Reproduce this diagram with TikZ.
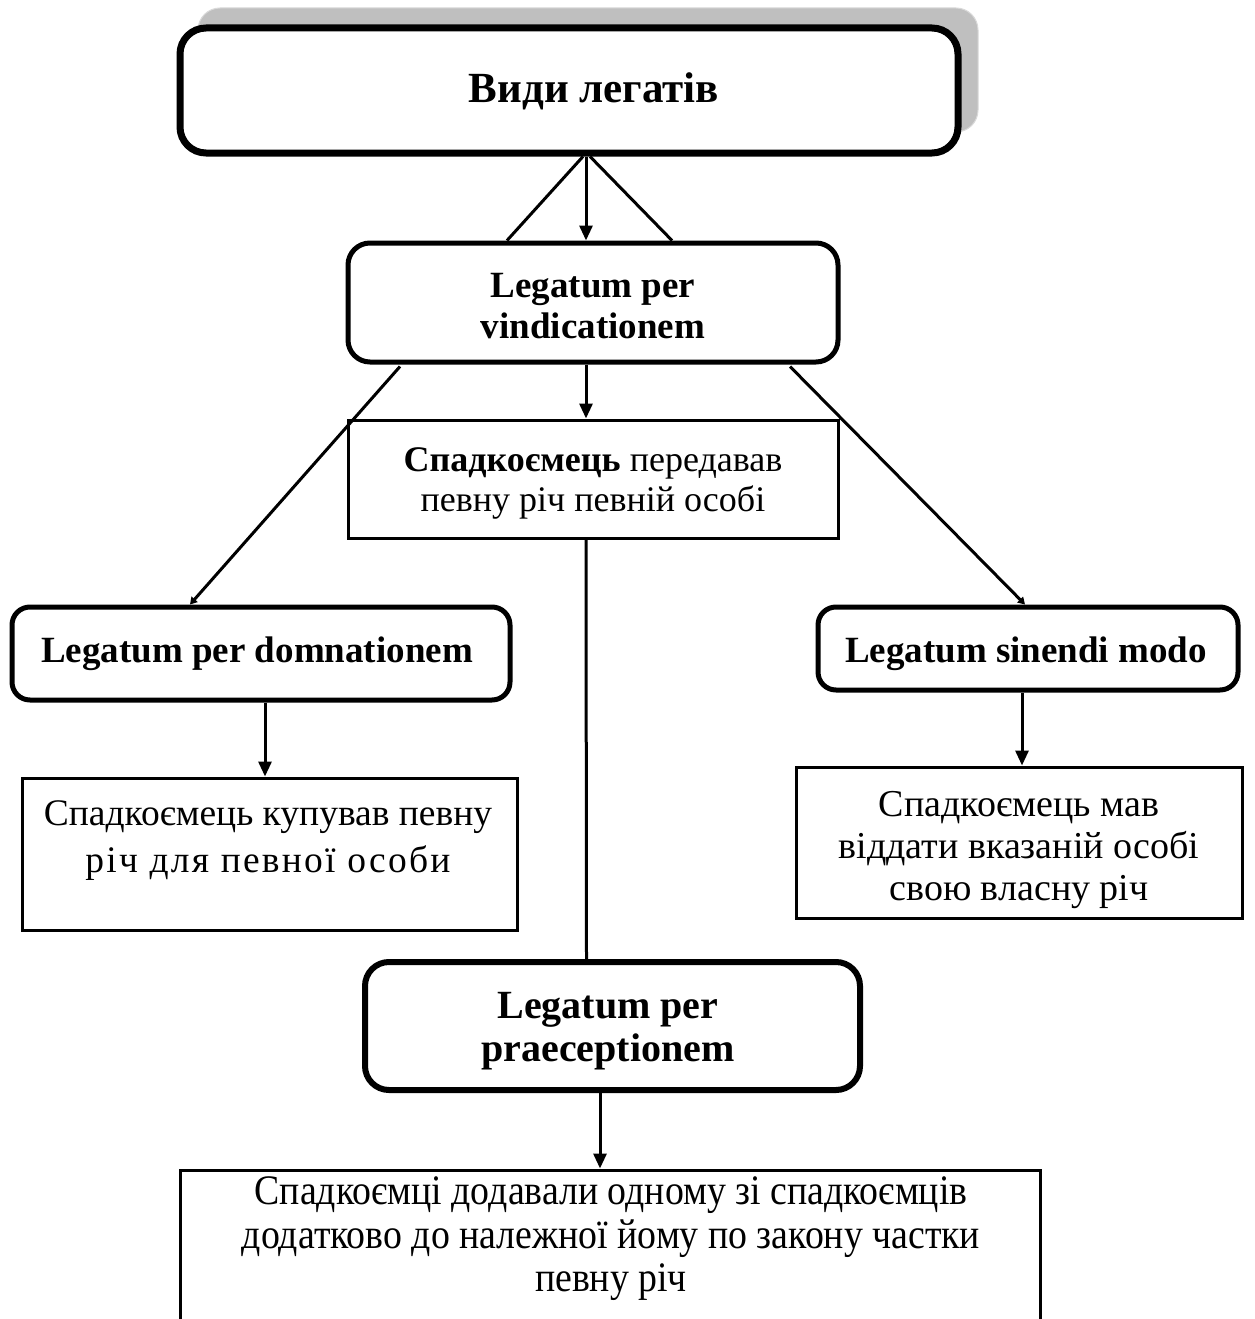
\documentclass[tikz,border=0pt]{standalone}
\usepackage{fontspec}
\setmainfont{Liberation Serif}
\usetikzlibrary{arrows.meta,calc}
\begin{document}
\begin{tikzpicture}[x=1pt,y=-1pt,
  rbox/.style={draw, rounded corners=22pt, line width=5pt, fill=white, inner sep=0pt},
  pbox/.style={draw, line width=3pt, fill=white, inner sep=0pt},
  txt/.style={align=center, inner sep=0pt, font=\fontsize{36}{40}\selectfont},
  btxt/.style={align=center, inner sep=0pt, font=\fontsize{37}{41}\selectfont\bfseries},
  conn/.style={line width=3pt},
  arr/.style={line width=3pt, -{Triangle[length=15pt,width=13pt]}},
  sarr/.style={line width=3pt, -{Triangle[length=7pt,width=8pt]}},
]
\clip (0,0) rectangle (1254,1319);
\useasboundingbox (0,0) rectangle (1254,1319);
\fill[white] (0,0) rectangle (1254,1319);

% shadow of the title box
\node[draw=gray!30, line width=1pt, fill=black!25, rounded corners=22pt, minimum width=780pt, minimum height=124pt, inner sep=0pt] (shadow) at (588,70) {};

% boxes
\node[rbox, line width=7pt, rounded corners=26pt, minimum width=778pt, minimum height=125pt] (title) at (569,90.5) {};
\node[btxt, font=\fontsize{43}{46}\selectfont\bfseries] (titlet) at (594,91) {Види легатів};

\node[rbox, minimum width=490pt, minimum height=119pt] (vind) at (593,302.5) {};
\node[btxt] (vindt) at (593,306) {Legatum per\\vindicationem};

\node[pbox, minimum width=490pt, minimum height=118pt] (spad1) at (593,479) {};
\node[txt] (spad1t) at (593,483) {\textbf{Спадкоємець} передавав\\певну річ певній особі};

\node[rbox, rounded corners=18pt, minimum width=498pt, minimum height=93pt] (domn) at (261,653.5) {};
\node[btxt] (domnt) at (257,654) {Legatum per domnationem};

\node[rbox, rounded corners=18pt, minimum width=420pt, minimum height=83pt] (sin) at (1028,648.5) {};
\node[btxt] (sint) at (1026,654) {Legatum sinendi modo};

\node[pbox, minimum width=495pt, minimum height=152pt] (spad2) at (269.5,854) {};
\node[txt, font=\fontsize{37.5}{47}\selectfont] (spad2t) at (268,841) {Спадкоємець купував певну\\{\addfontfeature{LetterSpace=6}річ для певної особи}};

\node[pbox, minimum width=446pt, minimum height=151pt] (spad3) at (1019,842.5) {};
\node[txt, font=\fontsize{38}{42}\selectfont] (spad3t) at (1019,850) {Спадкоємець мав\\віддати вказаній особі\\свою власну річ};

\node[rbox, line width=6pt, rounded corners=24pt, minimum width=495pt, minimum height=128pt] (prae) at (612.5,1026) {};
\node[btxt, font=\fontsize{40}{43}\selectfont\bfseries] (praet) at (608,1031) {Legatum per\\praeceptionem};

\node[pbox, minimum width=860pt, minimum height=220pt] (spad4) at (610,1280) {};
\node[txt, font=\fontsize{42}{43.5}\selectfont] (spad4t) at (611,1239) {\scalebox{0.9}[1]{Спадкоємці додавали одному зі спадкоємців}\\\scalebox{0.9}[1]{додатково до належної йому по закону частки}\\\scalebox{0.9}[1]{певну річ}};

% connectors
\draw[arr] ($(title.south)+(17,0)$) -- ($(vind.north)+(-7,0)$);
\draw[conn] ($(title.south)+(14,0)$) -- ($(vind.north)+(-86,0)$);
\draw[conn] ($(title.south)+(21,0)$) -- ($(vind.north)+(79,0)$);
\draw[arr] ($(vind.south)+(-7,0)$) -- ($(spad1.north)+(-7,0)$);
\draw[sarr] ($(vind.south)+(-193,2)$) -- ($(domn.north)+(-71,0)$);
\draw[sarr] ($(vind.south)+(197,2)$) -- ($(sin.north)+(-3,0)$);
\draw[conn] ($(spad1.south)+(-7,0)$) -- ($(prae.north)+(-26,0)$);
\draw[arr] ($(domn.south)+(4,0)$) -- ($(spad2.north)+(-4.5,0)$);
\draw[arr] ($(sin.south)+(-6,0)$) -- ($(spad3.north)+(3,0)$);
\draw[arr] ($(prae.south)+(-12.5,0)$) -- ($(spad4.north)+(-10,0)$);
\end{tikzpicture}
\end{document}
